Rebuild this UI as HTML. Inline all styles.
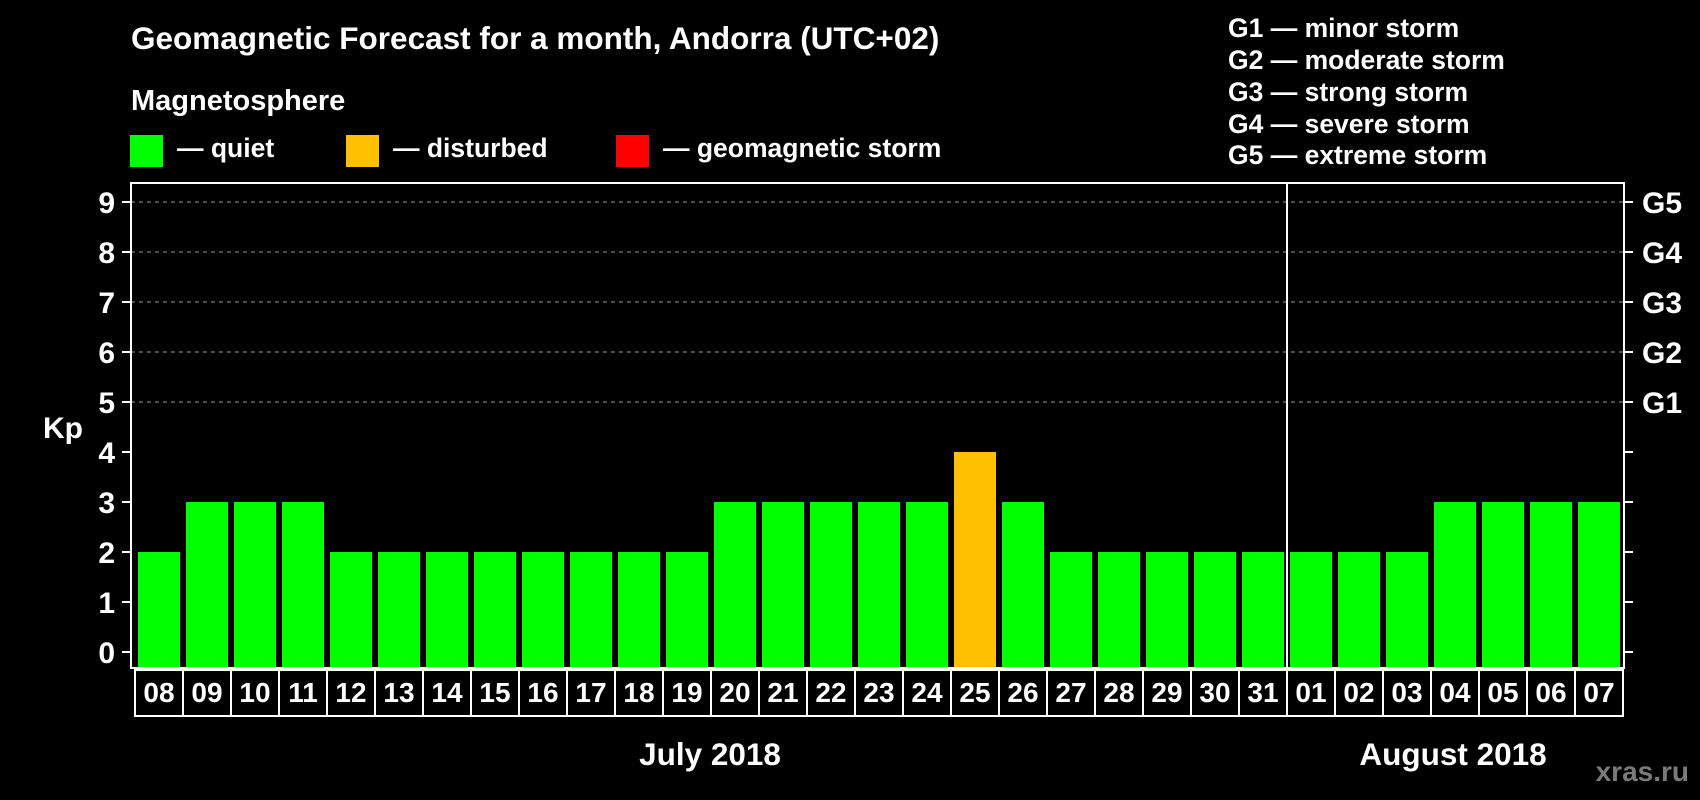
<!DOCTYPE html>
<html><head><meta charset="utf-8">
<style>
html,body{margin:0;padding:0;background:#000;}
svg{display:block;}
text{font-family:"Liberation Sans",Arial,sans-serif;font-weight:bold;fill:#fff;}
</style></head>
<body>
<svg id="chart" width="1700" height="800" viewBox="0 0 1700 800" xmlns="http://www.w3.org/2000/svg">
<rect width="1700" height="800" fill="#000"/>
<text x="131" y="49" font-size="31.5">Geomagnetic Forecast for a month, Andorra (UTC+02)</text>
<text x="131" y="110" font-size="29">Magnetosphere</text>
<g><rect x="130" y="135" width="33" height="32" fill="#00ff00"/><text x="177" y="157" font-size="26.5">— quiet</text></g>
<g><rect x="346" y="135" width="33" height="32" fill="#ffc000"/><text x="393" y="157" font-size="26.5">— disturbed</text></g>
<g><rect x="616" y="135" width="33" height="32" fill="#ff0000"/><text x="663" y="157" font-size="26.5">— geomagnetic storm</text></g>
<g>
<text x="1228" y="37" font-size="26.5">G1 — minor storm</text>
<text x="1228" y="69" font-size="26.5">G2 — moderate storm</text>
<text x="1228" y="101" font-size="26.5">G3 — strong storm</text>
<text x="1228" y="133" font-size="26.5">G4 — severe storm</text>
<text x="1228" y="164" font-size="26.5">G5 — extreme storm</text>
</g>
<text x="43" y="438" font-size="30">Kp</text>
<g id="grid"></g>
<g id="bars"></g>
<g id="axes"></g>
<g id="dates"></g>
<text x="710" y="765" font-size="31.5" text-anchor="middle">July 2018</text>
<text x="1453" y="765" font-size="31.5" text-anchor="middle">August 2018</text>
<text x="1689" y="781" font-size="28" text-anchor="end" style="fill:#7a7a7a">xras.ru</text>
</svg>
<script>
const days = ["08","09","10","11","12","13","14","15","16","17","18","19","20","21","22","23","24","25","26","27","28","29","30","31","01","02","03","04","05","06","07"];
const kpValues = [2,3,3,3,2,2,2,2,2,2,2,2,3,3,3,3,3,4,3,2,2,2,2,2,2,2,2,3,3,3,3];
const yTicks = [0,1,2,3,4,5,6,7,8,9];
const gLabels = ["","","","","","G1","G2","G3","G4","G5"];
const monthBreakIndex = 24;

const NS="http://www.w3.org/2000/svg";
const pLeft=131,pRight=1624,pTop=183,pBottom=668;
const x0=135,step=48;
function yScale(v){return 652-v*50;}
function xScale(i){return x0+i*step;}
function mk(tag,attrs,parent){const e=document.createElementNS(NS,tag);for(const k in attrs)e.setAttribute(k,attrs[k]);parent.appendChild(e);return e;}
function color(v){return v>=5?"#ff0000":(v>=4?"#ffc000":"#00ff00");}

const gridG=document.getElementById('grid'),barsG=document.getElementById('bars'),axesG=document.getElementById('axes'),datesG=document.getElementById('dates');
yTicks.forEach((t,i)=>{
  const y=yScale(t);
  if(t>=5){const l=mk('line',{x1:pLeft,x2:pRight,y1:y,y2:y,stroke:'#999','stroke-width':1,'stroke-dasharray':'4,4'},gridG);
    
    }
  const tl=mk('line',{x1:122,x2:pLeft,y1:y,y2:y,stroke:'#fff','stroke-width':2},axesG);
  
  
  const tr=mk('line',{x1:pRight,x2:1633,y1:y,y2:y,stroke:'#fff','stroke-width':2},axesG);
  
  
  const tx=mk('text',{x:115,y:y+11,'font-size':30,'text-anchor':'end'},axesG);
  tx.textContent=t;
  
  
  if(gLabels[i]){const g=mk('text',{x:1642,y:y+11,'font-size':30},axesG);g.textContent=gLabels[i];
    
    }
});
kpValues.forEach((v,i)=>{
  const b=mk('rect',{x:xScale(i)+3,y:yScale(v),width:42,height:pBottom-yScale(v),fill:color(v)},barsG);
  
  
});
const frame=mk('rect',{x:pLeft,y:pTop,width:pRight-pLeft,height:pBottom-pTop,fill:'none',stroke:'#fff','stroke-width':2},axesG);


const dv=mk('line',{x1:xScale(monthBreakIndex),x2:xScale(monthBreakIndex),y1:pTop,y2:pBottom,stroke:'#fff','stroke-width':2},axesG);


days.forEach((d,i)=>{
  const r=mk('rect',{x:xScale(i),y:670,width:step,height:46,fill:'#000',stroke:'#fff','stroke-width':2},datesG);
  
  
  const t=mk('text',{x:xScale(i)+step/2,y:702,'font-size':28,'text-anchor':'middle'},datesG);
  t.textContent=d;
  
  
});
</script>
</body></html>
